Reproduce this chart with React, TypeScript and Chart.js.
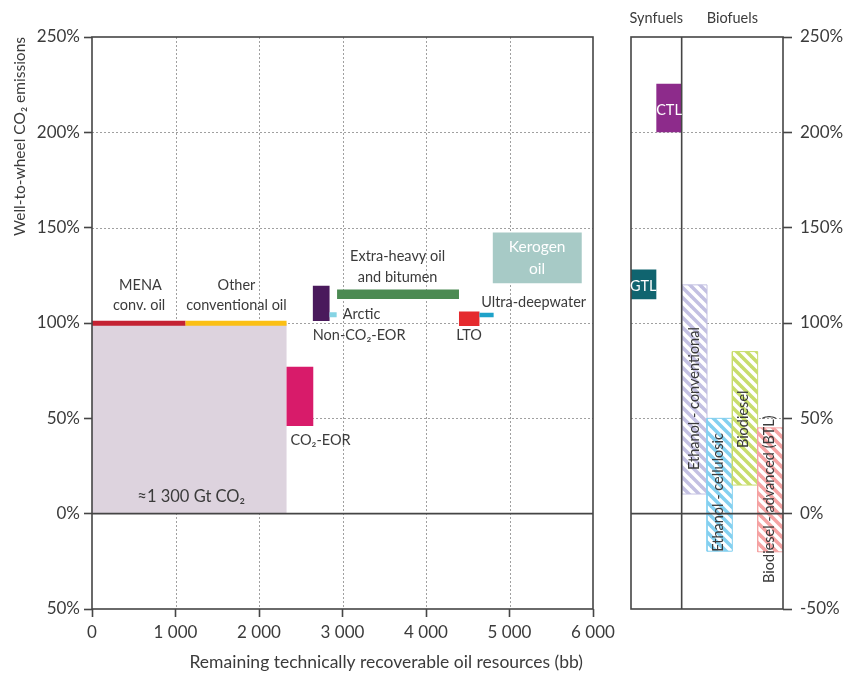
import React, { useEffect, useRef } from "react";
import { Chart, registerables } from "chart.js";

Chart.register(...registerables);

const FONT = "Lato, 'Noto Sans', sans-serif";
const TEXT = "#3b3b3b";
const AXIS = "#454545";

// ---------- Main panel: oil resources (x in bb, y in % of reference) ----------
const oilNames = [
  "Total (≈1 300 Gt CO₂)",
  "MENA conv. oil",
  "Other conventional oil",
  "CO₂-EOR",
  "Non-CO₂-EOR",
  "Arctic",
  "Extra-heavy oil and bitumen",
  "LTO",
  "Ultra-deepwater",
  "Kerogen oil",
];
const oilXStart = [0, 0, 1120, 2330, 2645, 2845, 2935, 4395, 4640, 4800];
const oilXEnd = [2330, 1120, 2330, 2650, 2845, 2930, 4395, 4640, 4810, 5865];
const oilYLow = [0, 98.6, 98.6, 46, 101, 103, 112.6, 98.4, 103, 120.8];
const oilYHigh = [100, 101.2, 101.2, 77, 119.5, 105.6, 117.6, 106, 105.4, 147.5];
const oilColors = [
  "#ddd3de",
  "#c42233",
  "#fbbf14",
  "#d81b6a",
  "#4a1a5c",
  "#86d4e4",
  "#4b8a52",
  "#e52a2e",
  "#1ea2c9",
  "#a7cac6",
];

// ---------- Right panel: synfuels & biofuels ----------
const altNames = [
  "GTL",
  "CTL",
  "Ethanol - conventional",
  "Ethanol - cellulosic",
  "Biodiesel",
  "Biodiesel - advanced (BTL)",
];
const altXStart = [0, 0.5, 1, 1.5, 2, 2.5];
const altXEnd = [0.5, 1, 1.5, 2, 2.5, 3];
const altYLow = [112.4, 200, 10.3, -19.7, 15, -20];
const altYHigh = [128, 225.5, 120, 50, 85, 45];
const altColors = ["#10646f", "#8d2b8b", "#c3c0e2", "#84d0f0", "#c8dd6c", "#f5a3a3"];
const altHatched = [false, false, true, true, true, true];

// ---------- Axes ----------
const yTickValues = [-50, 0, 50, 100, 150, 200, 250];
const leftYTickLabels = ["50%", "0%", "50%", "100%", "150%", "200%", "250%"];
const rightYTickLabels = ["-50%", "0%", "50%", "100%", "150%", "200%", "250%"];
const xTickValues = [0, 1000, 2000, 3000, 4000, 5000, 6000];
const xTickLabels = ["0", "1 000", "2 000", "3 000", "4 000", "5 000", "6 000"];
const panelHeaders = ["Synfuels", "Biofuels"];
const yTitle = "Well-to-wheel CO₂ emissions";
const xTitle = "Remaining technically recoverable oil resources (bb)";

type Note = {
  text: string;
  x: number;
  y: number;
  align?: CanvasTextAlign;
  color?: string;
  rotate?: boolean;
  size?: number;
};

const mainNotes: Note[] = [
  { text: "MENA", x: 580, y: 119.9 },
  { text: "conv. oil", x: 565, y: 109.3 },
  { text: "Other", x: 1730, y: 119.9 },
  { text: "conventional oil", x: 1730, y: 109.3 },
  { text: "Extra-heavy oil", x: 3660, y: 134.8 },
  { text: "and bitumen", x: 3660, y: 124.0 },
  { text: "Arctic", x: 3004, y: 104.7, align: "left" },
  { text: "Non-CO₂-EOR", x: 2644, y: 93.7, align: "left" },
  { text: "LTO", x: 4361, y: 93.7, align: "left" },
  { text: "Ultra-deepwater", x: 4661, y: 110.6, align: "left" },
  { text: "Kerogen", x: 5331, y: 139.7, color: "#ffffff", size: 15.5 },
  { text: "oil", x: 5331, y: 128.2, color: "#ffffff", size: 15.5 },
  { text: "CO₂-EOR", x: 2377, y: 38.7, align: "left" },
  { text: "≈1 300 Gt CO₂", x: 1188, y: 8.9, size: 16.5 },
];

const sideNotes: Note[] = [
  { text: panelHeaders[0], x: 0.5, y: 260 },
  { text: panelHeaders[1], x: 2, y: 260 },
  { text: altNames[1], x: 0.75, y: 211.5, color: "#ffffff", size: 14.5 },
  { text: altNames[0], x: 0.24, y: 119, color: "#ffffff", size: 14.5 },
  { text: altNames[2], x: 1.25, y: 22.9, rotate: true, align: "left" },
  { text: altNames[3], x: 1.73, y: -20, rotate: true, align: "left" },
  { text: altNames[4], x: 2.22, y: 34.4, rotate: true, align: "left" },
  { text: altNames[5], x: 2.73, y: -36.3, rotate: true, align: "left" },
];

function rectData(x0: number, x1: number, y0: number, y1: number) {
  return [
    { x: x0, y: y0 },
    { x: x1, y: y0 },
    { x: x1, y: y1 },
    { x: x0, y: y1 },
    { x: x0, y: y0 },
  ];
}

function makeHatch(color: string): CanvasPattern | string {
  const s = 10;
  const c = document.createElement("canvas");
  c.width = s;
  c.height = s;
  const g = c.getContext("2d");
  if (!g) return color;
  g.fillStyle = color;
  g.fillRect(0, 0, s, s);
  g.strokeStyle = "#ffffff";
  g.lineWidth = 3.5;
  for (const k of [-s, 0, s]) {
    g.beginPath();
    g.moveTo(k - 2, -2);
    g.lineTo(k + s + 2, s + 2);
    g.stroke();
  }
  return g.createPattern(c, "repeat") || color;
}

function makeDecor(cfg: {
  gridX: number[];
  gridY: number[];
  dividers: number[];
  notes: Note[];
  bottomTitle?: string;
}) {
  return {
    id: "decor",
    beforeDatasetsDraw(chart: any) {
      const { ctx, chartArea: a, scales } = chart;
      const x = scales.x;
      const y = scales.y;
      ctx.save();
      ctx.strokeStyle = "#a0a0a0";
      ctx.lineWidth = 1;
      ctx.setLineDash([2, 2]);
      for (const v of cfg.gridX) {
        const px = Math.round(x.getPixelForValue(v)) + 0.5;
        ctx.beginPath();
        ctx.moveTo(px, a.top);
        ctx.lineTo(px, a.bottom);
        ctx.stroke();
      }
      for (const v of cfg.gridY) {
        const py = Math.round(y.getPixelForValue(v)) + 0.5;
        ctx.beginPath();
        ctx.moveTo(a.left, py);
        ctx.lineTo(a.right, py);
        ctx.stroke();
      }
      ctx.restore();
    },
    afterDatasetsDraw(chart: any) {
      const { ctx, chartArea: a, scales } = chart;
      const x = scales.x;
      const y = scales.y;
      ctx.save();
      ctx.strokeStyle = AXIS;
      ctx.lineWidth = 1.6;
      // zero line
      const y0 = y.getPixelForValue(0);
      ctx.beginPath();
      ctx.moveTo(a.left, y0);
      ctx.lineTo(a.right, y0);
      ctx.stroke();
      // dividers
      for (const d of cfg.dividers) {
        const px = x.getPixelForValue(d);
        ctx.beginPath();
        ctx.moveTo(px, a.top);
        ctx.lineTo(px, a.bottom);
        ctx.stroke();
      }
      // frame
      ctx.strokeRect(a.left, a.top, a.right - a.left, a.bottom - a.top);
      // notes
      for (const n of cfg.notes) {
        const px = x.getPixelForValue(n.x);
        const py = y.getPixelForValue(n.y);
        ctx.save();
        ctx.font = `${n.size || 14.5}px ${FONT}`;
        ctx.fillStyle = n.color || TEXT;
        ctx.textAlign = n.align || "center";
        ctx.textBaseline = "middle";
        ctx.translate(px, py);
        if (n.rotate) ctx.rotate(-Math.PI / 2);
        ctx.fillText(n.text, 0, 0);
        ctx.restore();
      }
      if (cfg.bottomTitle) {
        ctx.font = `17.5px ${FONT}`;
        ctx.fillStyle = TEXT;
        ctx.textAlign = "right";
        ctx.textBaseline = "middle";
        ctx.fillText(cfg.bottomTitle, a.right - 10, a.bottom + 53);
      }
      ctx.restore();
    },
  };
}

export default function App() {
  const mainRef = useRef<HTMLCanvasElement>(null);
  const sideRef = useRef<HTMLCanvasElement>(null);

  useEffect(() => {
    if (!mainRef.current || !sideRef.current) return;

    const nOil = oilNames.length;
    const oilDatasets = oilNames.map((name, i) => ({
      type: "line" as const,
      label: name,
      data: rectData(oilXStart[i], oilXEnd[i], oilYLow[i], oilYHigh[i]),
      fill: "shape",
      backgroundColor: oilColors[i],
      borderColor: "rgba(0,0,0,0)",
      borderWidth: 1,
      pointRadius: 0,
      tension: 0,
      order: nOil - i,
    }));

    const nAlt = altNames.length;
    const altDatasets = altNames.map((name, i) => ({
      type: "line" as const,
      label: name,
      data: rectData(altXStart[i], altXEnd[i], altYLow[i], altYHigh[i]),
      fill: "shape",
      backgroundColor: altHatched[i] ? makeHatch(altColors[i]) : altColors[i],
      borderColor: altHatched[i] ? altColors[i] : "rgba(0,0,0,0)",
      borderWidth: 1,
      pointRadius: 0,
      tension: 0,
      order: nAlt - i,
    }));

    const tickFont = { family: FONT, size: 17 };

    const main = new Chart(mainRef.current, {
      type: "line",
      data: { datasets: oilDatasets as any },
      options: {
        responsive: false,
        animation: false,
        events: [],
        layout: { padding: { left: 0, right: 27, top: 37, bottom: 0 }, autoPadding: false } as any,
        plugins: { legend: { display: false }, tooltip: { enabled: false } },
        scales: {
          x: {
            type: "linear",
            position: "bottom",
            min: 0,
            max: 6000,
            afterBuildTicks: (s: any) => {
              s.ticks = xTickValues.map((v) => ({ value: v }));
            },
            afterFit: (s: any) => {
              s.height = 64;
            },
            ticks: {
              autoSkip: false,
              maxRotation: 0,
              padding: 5,
              color: TEXT,
              font: tickFont,
              callback: (_v: any, i: number) => xTickLabels[i],
            },
            grid: { drawOnChartArea: false, drawTicks: true, tickLength: 8, tickColor: AXIS, tickWidth: 1.6 },
            border: { display: false },
          },
          y: {
            type: "linear",
            position: "left",
            min: -50,
            max: 250,
            afterBuildTicks: (s: any) => {
              s.ticks = yTickValues.map((v) => ({ value: v }));
            },
            afterFit: (s: any) => {
              s.width = 92;
            },
            ticks: {
              autoSkip: false,
              padding: 4,
              color: TEXT,
              font: tickFont,
              callback: (_v: any, i: number) => leftYTickLabels[i],
            },
            grid: { drawOnChartArea: false, drawTicks: true, tickLength: 8, tickColor: AXIS, tickWidth: 1.6 },
            border: { display: false },
            title: {
              display: true,
              text: yTitle,
              align: "end",
              color: TEXT,
              font: { family: FONT, size: 15.5 },
              padding: { top: 11, bottom: 0 },
            },
          },
        },
      } as any,
      plugins: [
        makeDecor({
          gridX: [1000, 2000, 3000, 4000, 5000],
          gridY: [50, 100, 150, 200],
          dividers: [],
          notes: mainNotes,
          bottomTitle: xTitle,
        }),
      ],
    });

    const side = new Chart(sideRef.current, {
      type: "line",
      data: { datasets: altDatasets as any },
      options: {
        responsive: false,
        animation: false,
        events: [],
        layout: { padding: { left: 11, right: 0, top: 37, bottom: 64 }, autoPadding: false } as any,
        plugins: { legend: { display: false }, tooltip: { enabled: false } },
        scales: {
          x: { type: "linear", min: 0, max: 3, display: false },
          y: {
            type: "linear",
            position: "right",
            min: -50,
            max: 250,
            afterBuildTicks: (s: any) => {
              s.ticks = yTickValues.map((v) => ({ value: v }));
            },
            afterFit: (s: any) => {
              s.width = 62;
            },
            ticks: {
              autoSkip: false,
              padding: 8,
              color: TEXT,
              font: tickFont,
              callback: (_v: any, i: number) => rightYTickLabels[i],
            },
            grid: { drawOnChartArea: false, drawTicks: true, tickLength: 9, tickColor: AXIS, tickWidth: 1.6 },
            border: { display: false },
          },
        },
      } as any,
      plugins: [
        makeDecor({
          gridX: [],
          gridY: [50, 100, 150, 200],
          dividers: [1],
          notes: sideNotes,
        }),
      ],
    });

    return () => {
      main.destroy();
      side.destroy();
    };
  }, []);

  return (
    <div style={{ position: "absolute", left: 0, top: 0, width: 845, height: 673, background: "#ffffff" }}>
      <canvas ref={mainRef} width={620} height={673} style={{ position: "absolute", left: 0, top: 0 }} />
      <canvas ref={sideRef} width={225} height={673} style={{ position: "absolute", left: 620, top: 0 }} />
    </div>
  );
}
